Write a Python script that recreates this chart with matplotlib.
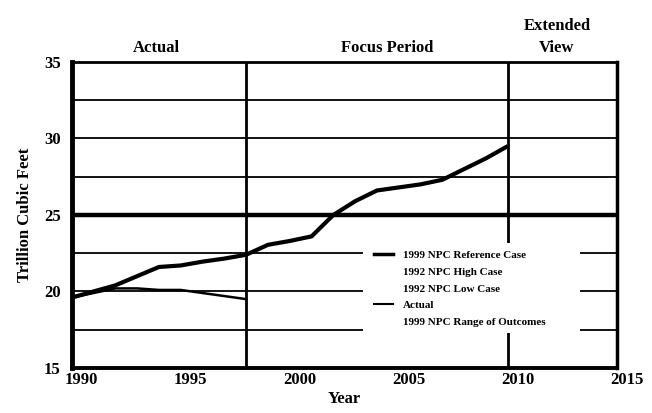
import matplotlib.pyplot as plt
import matplotlib.transforms as mtransforms
from matplotlib.lines import Line2D
from matplotlib.patches import Rectangle

plt.rcParams['font.family'] = ['Liberation Serif', 'DejaVu Serif']
plt.rcParams['font.weight'] = 'bold'

# data
ref_years = list(range(1990, 2011))
ref_values = [19.6, 20.0, 20.4, 21.0, 21.6, 21.7, 21.95, 22.15, 22.4, 23.05, 23.3,
              23.6, 25.0, 25.9, 26.6, 26.8, 27.0, 27.3, 28.0, 28.7, 29.5]
actual_years = list(range(1990, 1999))
actual_values = [19.6, 19.9, 20.2, 20.2, 20.1, 20.1, 19.9, 19.7, 19.5]
high_case = 25.0
grid_levels = [17.5, 20, 22.5, 27.5, 30, 32.5]
period_bounds = [1998, 2010]
period_names = ["Actual", "Focus Period", "Extended\nView"]
period_centers = [1993.9, 2004.45, 2012.25]
legend_labels = ["1999 NPC Reference Case", "1992 NPC High Case", "1992 NPC Low Case",
                 "Actual", "1999 NPC Range of Outcomes"]

fig = plt.figure(figsize=(6.52, 4.13), dpi=100)
ax = fig.add_axes([0.110, 0.109, 0.836, 0.741])
ax.set_xlim(1990, 2015)
ax.set_ylim(15, 35)

# grid and dividers
for lv in grid_levels:
    ax.axhline(lv, color='black', lw=1.3, zorder=1)
ax.axhline(high_case, color='black', lw=3.2, zorder=4)
for b in period_bounds:
    ax.axvline(b, color='black', lw=2.0, zorder=1)

# white area behind legend
ax.add_patch(Rectangle((0.534, 0.114), 0.398, 0.294, transform=ax.transAxes,
                       facecolor='white', edgecolor='none', zorder=2))

ax.plot(ref_years, ref_values, color='black', lw=3.0, zorder=5, solid_capstyle='butt')
ax.plot(actual_years, actual_values, color='black', lw=1.8, zorder=5)

for sp, w in zip(['left', 'bottom', 'right', 'top'], [3.5, 2.8, 2.5, 2.0]):
    ax.spines[sp].set_linewidth(w)

ax.set_xticks([1990, 1995, 2000, 2005, 2010, 2015])
ax.set_yticks([15, 20, 25, 30, 35])
ax.tick_params(axis='both', length=0, labelsize=12)
ax.tick_params(axis='x', pad=3)
ax.tick_params(axis='y', pad=8)
offset = mtransforms.ScaledTranslation(10 / 100, 0, fig.dpi_scale_trans)
for lab in ax.get_xticklabels():
    lab.set_transform(lab.get_transform() + offset)

ax.set_xlabel("Year", fontsize=12, fontweight='bold', labelpad=2)
ax.set_ylabel("Trillion Cubic Feet", fontsize=12, fontweight='bold', labelpad=8)

trans = mtransforms.blended_transform_factory(ax.transData, ax.transAxes)
for name, xc in zip(period_names, period_centers):
    ax.text(xc, 1.018, name, transform=trans, ha='center', va='bottom',
            fontsize=12, fontweight='bold', linespacing=1.5)

handles = [Line2D([], [], color='black', lw=2.5),
           Line2D([], [], color='none'),
           Line2D([], [], color='none'),
           Line2D([], [], color='black', lw=1.5),
           Line2D([], [], color='none')]
leg = ax.legend(handles, legend_labels, loc='upper left',
                bbox_to_anchor=(0.555, 0.384), frameon=False, fontsize=8,
                handlelength=1.7, handletextpad=0.85, labelspacing=0.62,
                borderpad=0, borderaxespad=0)
for t in leg.get_texts():
    t.set_fontweight('bold')
leg.set_zorder(6)

fig.savefig("out.png", dpi=100)
